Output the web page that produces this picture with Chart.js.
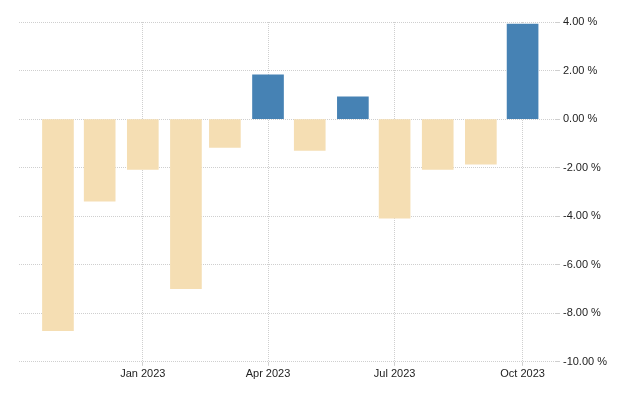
<!DOCTYPE html>
<html>
<head>
<meta charset="utf-8">
<script src="https://cdn.jsdelivr.net/npm/chart.js@4"></script>
<style>
  html, body { margin: 0; padding: 0; background: #fff; }
  #wrap { width: 640px; height: 400px; }
</style>
</head>
<body>
<div id="wrap"><canvas id="chart"></canvas></div>
<script>
// 月份（每月第一天）和数值
const months = ['2022-11-01', '2022-12-01', '2023-01-01', '2023-02-01', '2023-03-01', '2023-04-01',
                '2023-05-01', '2023-06-01', '2023-07-01', '2023-08-01', '2023-09-01', '2023-10-01'];
const values = [-8.72, -3.38, -2.07, -6.99, -1.17, 1.82, -1.29, 0.92, -4.08, -2.07, -1.86, 3.91];

// x 轴刻度
const tickDates = ['2023-01-01', '2023-04-01', '2023-07-01', '2023-10-01'];
const tickLabels = ['Jan 2023', 'Apr 2023', 'Jul 2023', 'Oct 2023'];

// y 轴刻度
const yTicks = [-10, -8, -6, -4, -2, 0, 2, 4];

const gridColor = '#cfcfcf';
const textColor = '#222';

new Chart(document.getElementById('chart'), {
    type: 'bar',
    data: {
        datasets: [{
            data: months.map((m, i) => ({ x: Date.parse(m), y: values[i] })),
            backgroundColor: ctx => (ctx.raw && ctx.raw.y >= 0) ? '#4682B4' : '#F5DEB3',
            barThickness: 31,
            borderWidth: 0
        }]
    },
    options: {
        responsive: true,
        maintainAspectRatio: false,
        animation: false,
        layout: {
            padding: { left: 19, right: 30, top: 22, bottom: 17 }
        },
        scales: {
            x: {
                type: 'linear',
                offset: false,
                min: Date.parse('2022-10-04'),
                max: Date.parse('2023-10-25'),
                afterBuildTicks: axis => {
                    axis.ticks = tickDates.map(d => ({ value: Date.parse(d) }));
                },
                ticks: {
                    autoSkip: false,
                    maxRotation: 0,
                    padding: 2,
                    color: textColor,
                    font: { family: 'Liberation Sans', size: 11 },
                    callback: value => {
                        const i = tickDates.findIndex(d => Date.parse(d) === value);
                        return i >= 0 ? tickLabels[i] : '';
                    }
                },
                grid: {
                    offset: false,
                    color: gridColor,
                    lineWidth: 1,
                    drawTicks: true,
                    tickLength: 4
                },
                border: { display: false, dash: [1, 1] }
            },
            y: {
                position: 'right',
                min: -10,
                max: 4,
                afterBuildTicks: axis => {
                    axis.ticks = yTicks.map(v => ({ value: v }));
                },
                ticks: {
                    padding: 3,
                    color: textColor,
                    font: { family: 'Liberation Sans', size: 11 },
                    callback: value => value.toFixed(2) + ' %'
                },
                grid: {
                    color: gridColor,
                    lineWidth: 1,
                    drawTicks: true,
                    tickLength: 4
                },
                border: { display: false, dash: [1, 1] }
            }
        },
        plugins: {
            legend: { display: false },
            tooltip: { enabled: false }
        }
    }
});
</script>
</body>
</html>
